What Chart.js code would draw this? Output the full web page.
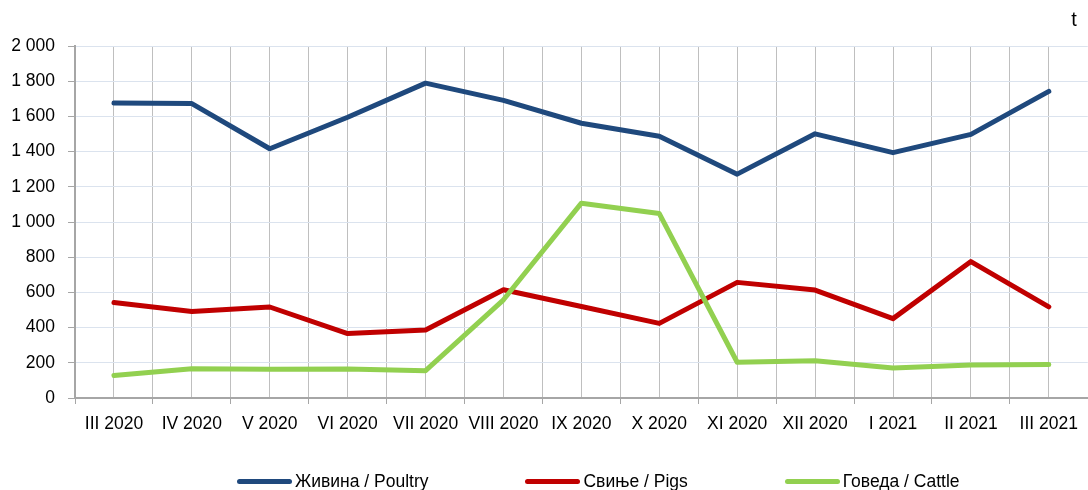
<!DOCTYPE html>
<html>
<head>
<meta charset="utf-8">
<script src="https://cdn.jsdelivr.net/npm/chart.js@4"></script>
<style>
  body { margin: 0; background: #fff; }
  #wrap { position: relative; width: 1088px; height: 490px; overflow: hidden; }
  #legend {
    position: absolute; left: 237px; top: 469px; height: 24px;
    display: flex; align-items: center; gap: 97px;
    font-family: 'Liberation Sans', Arial, sans-serif;
    font-size: 17.5px; color: #000; white-space: nowrap;
  }
  .item { display: flex; align-items: center; }
  .swatch { width: 55px; height: 5px; border-radius: 3px; margin-right: 3px; }
</style>
</head>
<body>
<div id="wrap">
  <canvas id="chart" width="1088" height="490"></canvas>
  <div id="legend"></div>
</div>
<script>
// Data
const categories = ["III 2020", "IV 2020", "V 2020", "VI 2020", "VII 2020", "VIII 2020", "IX 2020",
  "X 2020", "XI 2020", "XII 2020", "I 2021", "II 2021", "III 2021"];
const poultry = [1676, 1673, 1416, 1595, 1789, 1691, 1561, 1487, 1272, 1501, 1394, 1498, 1742];
const pigs = [543, 491, 517, 366, 386, 615, 520, 424, 657, 613, 451, 775, 518];
const cattle = [128, 166, 164, 165, 155, 558, 1107, 1048, 203, 211, 171, 188, 190];
const seriesNames = ["Живина / Poultry", "Свиње / Pigs", "Говеда / Cattle"];
const seriesColors = ["#1f497d", "#c00000", "#92d050"];
const yTicks = [0, 200, 400, 600, 800, 1000, 1200, 1400, 1600, 1800, 2000];
const unitLabel = "t";

Chart.defaults.font.family = "'Liberation Sans', Arial, sans-serif";
Chart.defaults.color = "#000";

function toPoints(values) {
  return values.map((v, i) => ({ x: i, y: v }));
}

// "2 000" style thousands separator
function formatThousands(v) {
  return String(v).replace(/\B(?=(\d{3})+(?!\d))/g, " ");
}

const allSeries = [poultry, pigs, cattle];
const datasets = allSeries.map((values, i) => ({
  label: seriesNames[i],
  data: toPoints(values),
  borderColor: seriesColors[i],
  backgroundColor: seriesColors[i],
  borderWidth: 5,
  pointRadius: 0,
  tension: 0,
  borderCapStyle: "round",
  borderJoinStyle: "round",
  order: allSeries.length - i   // later series drawn on top, like the original
}));

const ctx = document.getElementById("chart").getContext("2d");
const chart = new Chart(ctx, {
  type: "line",
  data: { datasets },
  options: {
    responsive: false,
    animation: false,
    layout: { padding: 0 },
    plugins: {
      legend: { display: false },
      tooltip: { enabled: false },
      title: {
        display: true,
        text: unitLabel + "\u00a0\u00a0",
        align: "end",
        font: { size: 20, weight: "normal" },
        padding: { top: 8, bottom: 14 }
      }
    },
    scales: {
      x: {
        type: "linear",
        min: -0.5,
        max: categories.length - 0.5,
        // half steps: gridlines at every category and between them,
        // tick marks only on the category boundaries
        afterBuildTicks: scale => {
          const ticks = [];
          for (let i = -1; i <= 2 * categories.length - 2; i++) ticks.push({ value: i / 2 });
          scale.ticks = ticks;
        },
        afterFit: scale => { scale.height = 92; },
        ticks: {
          autoSkip: false,
          maxRotation: 0,
          minRotation: 0,
          padding: 10,
          font: { size: 17.5 },
          callback: value => Number.isInteger(value) ? categories[value] : ""
        },
        grid: {
          color: "#bfbfbf",
          lineWidth: 1,
          tickLength: 6,
          tickColor: c => (c.tick && Number.isInteger(c.tick.value)) ? "rgba(0,0,0,0)" : "#a6a6a6"
        },
        border: { color: "#a6a6a6", width: 2 }
      },
      y: {
        min: yTicks[0],
        max: yTicks[yTicks.length - 1],
        afterBuildTicks: scale => { scale.ticks = yTicks.map(v => ({ value: v })); },
        afterFit: scale => { scale.width = 75; },
        ticks: {
          padding: 13,
          font: { size: 17.5 },
          callback: value => formatThousands(value)
        },
        grid: {
          color: "#dbe3ee",
          lineWidth: 1,
          tickLength: 7,
          tickColor: "#a6a6a6"
        },
        border: { color: "#a6a6a6", width: 2 }
      }
    }
  }
});

// Legend below the chart
const legend = document.getElementById("legend");
chart.data.datasets.forEach(ds => {
  const item = document.createElement("div");
  item.className = "item";
  item.innerHTML = `<span class="swatch" style="background:${ds.borderColor}"></span><span>${ds.label}</span>`;
  legend.appendChild(item);
});
</script>
</body>
</html>
